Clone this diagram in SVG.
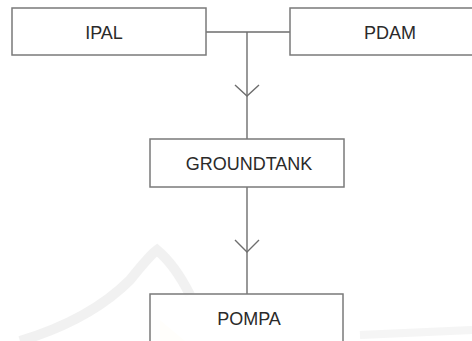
<svg xmlns="http://www.w3.org/2000/svg" width="472" height="341" viewBox="0 0 472 341">
<style>
.box{fill:#fff;stroke:#7a7a7a;stroke-width:1.5}
.lbl{font-family:"Liberation Sans",Arial,sans-serif;font-size:18px;fill:#2a2a2a;text-anchor:middle}
.ln{fill:none;stroke:#6e6e6e;stroke-width:1.4}
</style>
<rect width="472" height="341" fill="#fff"/>
<g id="watermark" opacity="0.5">
<path d="M160,320 L185,341 L160,341 Z" fill="#fbf3c4"/>
<path d="M20,341 Q90,320 130,280 Q150,255 157,250 Q175,265 190,295" fill="none" stroke="#e4e4e4" stroke-width="10"/>
<path d="M360,335 L472,330" fill="none" stroke="#ececec" stroke-width="8"/>
</g>
<g id="connectors">
<path class="ln" d="M206,32 H290 M247,32 V139 M247,187 V294"/>
<path class="ln" d="M235,85 L247,96 L259,85 M235,240 L247,252 L259,240"/>
</g>
<g id="ipal"><rect class="box" x="12" y="8" width="194" height="47"/><text class="lbl" x="104" y="38.5">IPAL</text></g>
<g id="pdam"><rect class="box" x="290" y="8" width="190" height="47"/><text class="lbl" x="390" y="38.5">PDAM</text></g>
<g id="groundtank"><rect class="box" x="150" y="139" width="194" height="48"/><text class="lbl" x="249" y="169.5">GROUNDTANK</text></g>
<g id="pompa"><rect class="box" x="150" y="294" width="193" height="55" fill-opacity="0.85"/><text class="lbl" x="249" y="324.5">POMPA</text></g>
</svg>
